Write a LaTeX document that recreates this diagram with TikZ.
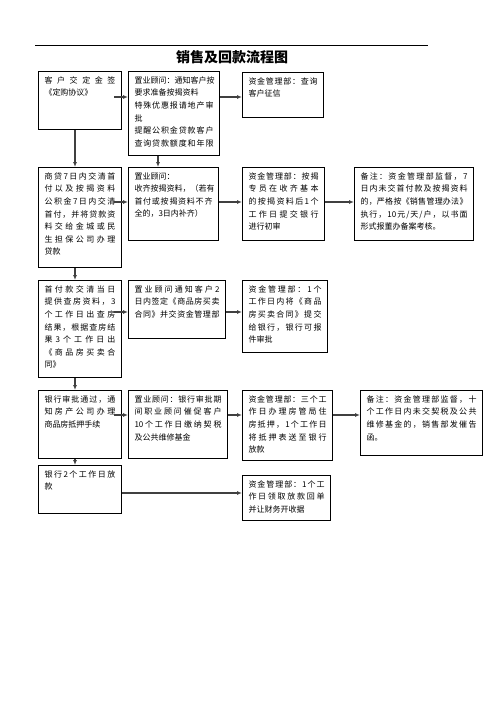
\documentclass[tikz,border=0pt]{standalone}
\usepackage{fontspec}
\setmainfont{Noto Sans CJK SC}
\usepackage{tikz}
\usetikzlibrary{arrows.meta}

% spread one line of characters over the full width
\makeatletter
\newcommand\jline[1]{\leavevmode\hbox to\linewidth{\jl@step#1\@nil}}
\def\jl@step#1#2\@nil{#1\ifx\relax#2\relax\else\hfil\jl@step#2\@nil\fi}
\makeatother

% text of a box: width, height, lines
\newcommand\boxtext[3]{\parbox[t][\dimexpr#2pt-10pt\relax][t]{\dimexpr#1pt-12pt\relax}{%
  \fontsize{8pt}{12.6pt}\selectfont #3}}

\begin{document}
\begin{tikzpicture}[x=1pt, y=-1pt,
  proc/.style={draw, line width=1pt, anchor=north west,
    inner xsep=6pt, inner ysep=5pt},
  link/.style={line width=1.2pt, black!75,
    -{Latex[length=5pt,width=4pt]}},
  feed/.style={link, shorten <=-8pt}]

\useasboundingbox (0,0) rectangle (496,702);

\draw[line width=.8pt] (35,45) -- (428,45);
\node[font=\fontsize{14pt}{16pt}\selectfont\bfseries] (title) at (232,57) {销售及回款流程图};

% rows and columns of the connectors
\coordinate (r1) at (0,97);
\coordinate (r2) at (0,202);
\coordinate (r3) at (0,312);
\coordinate (r4) at (0,415);
\coordinate (r5) at (0,493);
\coordinate (c1) at (75,0);
\coordinate (c2) at (158,0);

% row 1
\node[proc] (A1) at (38,71) {\boxtext{83}{58}{%
  \jline{客户交定金签}\\《定购协议》}};
\node[proc] (A2) at (128,71) {\boxtext{91}{84}{%
  \jline{置业顾问：通知客户按}\\要求准备按揭资料\\\jline{特殊优惠报请地产审}\\批\\
  \jline{提醒公积金贷款客户}\\\jline{查询贷款额度和年限}}};
\node[proc] (A3) at (242,72) {\boxtext{81}{45}{%
  \jline{资金管理部：查询}\\客户征信}};

% row 2
\node[proc] (B1) at (38,167) {\boxtext{83}{100}{%
  \jline{商贷7日内交清首}\\\jline{付以及按揭资料}\\\jline{公积金7日内交清}\\
  \jline{首付，并将贷款资}\\\jline{料交给金城或民}\\\jline{生担保公司办理}\\贷款}};
\node[proc] (B2) at (128,167) {\boxtext{90}{73}{%
  置业顾问：\\\jline{收齐按揭资料，（若有}\\\jline{首付或按揭资料不齐}\\全的，3日内补齐）}};
\node[proc] (B3) at (242,167) {\boxtext{82}{73}{%
  \jline{资金管理部：按揭}\\\jline{专员在收齐基本}\\\jline{的按揭资料后1个}\\
  \jline{工作日提交银行}\\进行初审}};
\node[proc] (B4) at (354,167) {\boxtext{119}{73}{%
  \jline{备注：资金管理部监督，7}\\\jline{日内未交首付款及按揭资料}\\
  \jline{的，严格按《销售管理办法》}\\\jline{执行，{10}元/天/户，以书面}\\形式报董办备案考核。}};

% row 3
\node[proc] (C1) at (38,280) {\boxtext{83}{97}{%
  \jline{首付款交清当日}\\\jline{提供查房资料，3}\\\jline{个工作日出查房}\\
  \jline{结果，根据查房结}\\\jline{果3个工作日出}\\\jline{《商品房买卖合}\\同》}};
\node[proc] (C2) at (128,280) {\boxtext{97}{58}{%
  \jline{置业顾问通知客户2}\\\jline{日内签定《商品房买卖}\\\jline{合同》并交资金管理部}}};
\node[proc] (C3) at (242,280) {\boxtext{85}{72}{%
  \jline{资金管理部：1个}\\\jline{工作日内将《商品}\\\jline{房买卖合同》提交}\\
  \jline{给银行，银行可报}\\件审批}};

% row 4
\node[proc] (D1) at (38,390) {\boxtext{83}{68}{%
  \jline{银行审批通过，通}\\\jline{知房产公司办理}\\商品房抵押手续}};
\node[proc] (D2) at (128,390) {\boxtext{99}{68}{%
  \jline{置业顾问：银行审批期}\\\jline{间职业顾问催促客户}\\\jline{{10}个工作日缴纳契税}\\及公共维修基金}};
\node[proc] (D3) at (242,390) {\boxtext{90}{70}{%
  \jline{资金管理部：三个工}\\\jline{作日办理房管局住}\\\jline{房抵押，1个工作日}\\
  \jline{将抵押表送至银行}\\放款}};
\node[proc] (D4) at (360,390) {\boxtext{122}{65}{%
  \jline{备注：资金管理部监督，十}\\\jline{个工作日内未交契税及公共}\\
  \jline{维修基金的，销售部发催告}\\函。}};

% row 5
\node[proc] (E1) at (38,465) {\boxtext{83}{48}{%
  \jline{银行2个工作日放}\\款}};
\node[proc] (E2) at (242,475) {\boxtext{88}{45}{%
  \jline{资金管理部：1个工}\\\jline{作日领取放款回单}\\并让财务开收据}};

% connectors
\draw[feed] (A1.east |- r1) -- (A2.west |- r1);
\draw[link] (A2.east |- r1) -- (A3.west |- r1);
\draw[link] (A1.south -| c1) -- (B1.north -| c1);
\draw[link] (A2.south -| c2) -- (B2.north -| c2);

\draw[feed] (B1.east |- r2) -- (B2.west |- r2);
\draw[link] (B2.east |- r2) -- (B3.west |- r2);
\draw[link] (B3.east |- r2) -- (B4.west |- r2);
\draw[link] (B1.south -| c1) -- (C1.north -| c1);

\draw[feed] (C1.east |- r3) -- (C2.west |- r3);
\draw[link] (C2.east |- r3) -- (C3.west |- r3);
\draw[link] (C1.south -| c1) -- (D1.north -| c1);

\draw[feed] (D1.east |- r4) -- (D2.west |- r4);
\draw[link] (D2.east |- r4) -- (D3.west |- r4);
\draw[link] (D3.east |- r4) -- (D4.west |- r4);
\draw[link] (D1.south -| c1) -- (E1.north -| c1);

\draw[link] (E1.east |- r5) -- (E2.west |- r5);

\end{tikzpicture}
\end{document}
